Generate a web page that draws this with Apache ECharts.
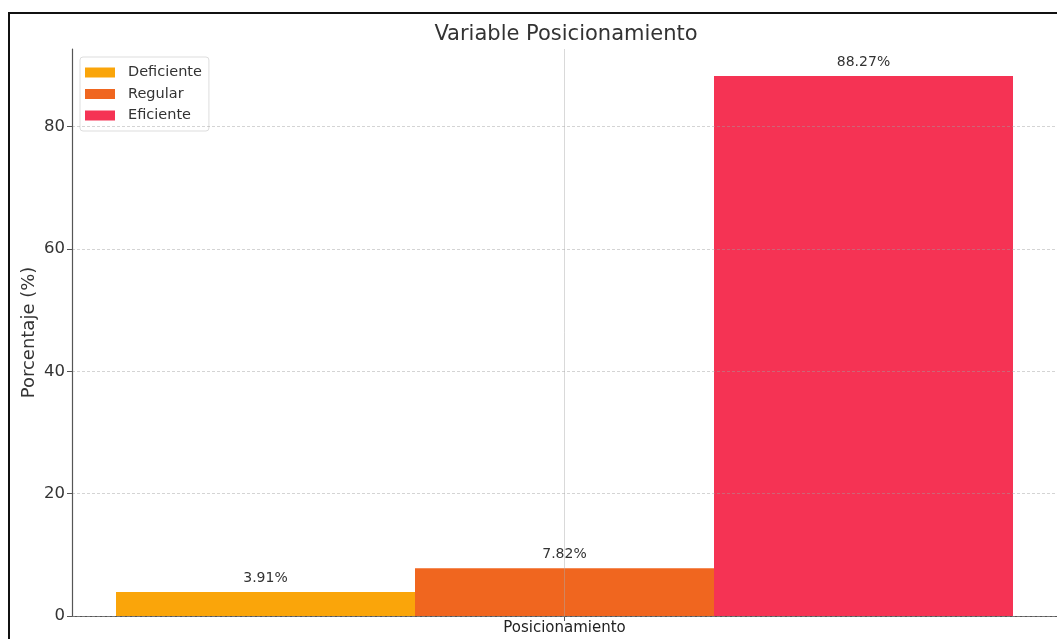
<!DOCTYPE html>
<html>
<head>
<meta charset="utf-8">
<script src="https://cdn.jsdelivr.net/npm/echarts@6/dist/echarts.min.js"></script>
<style>
  html, body { margin: 0; padding: 0; background: #fff; }
  #frame { position: absolute; left: 8px; top: 12px; width: 1060px; height: 640px;
           border: 2px solid #111; border-bottom: none; border-right: none; box-sizing: border-box; }
  #chart { position: absolute; left: 0; top: 0; width: 1057px; height: 639px; }
</style>
</head>
<body>
<div id="chart"></div>
<div id="frame"></div>
<script>
// Chart data
const categories = ['Posicionamiento'];
const levels = ['Deficiente', 'Regular', 'Eficiente'];
const deficiente = [3.91];
const regular = [7.82];
const eficiente = [88.27];
const yTicks = [0, 20, 40, 60, 80];

const colors = ['#FAA50A', '#F0661F', '#F53354'];
const font = 'DejaVu Sans, sans-serif';

const valuesByLevel = [deficiente, regular, eficiente];

const series = levels.map((name, i) => ({
  name: name,
  type: 'bar',
  xAxisIndex: 0,
  data: valuesByLevel[i],
  barWidth: 299,
  barGap: '0%',
  itemStyle: { color: colors[i] },
  label: {
    show: true,
    position: 'top',
    distance: 7,
    color: '#333',
    fontFamily: font,
    fontSize: 14,
    formatter: p => p.value.toFixed(2) + '%'
  }
}));

const chart = echarts.init(document.getElementById('chart'));
chart.setOption({
  backgroundColor: '#fff',
  animation: false,
  title: {
    text: 'Variable Posicionamiento',
    left: 561, top: 19, textAlign: 'center',
    textStyle: { fontFamily: font, fontSize: 21, fontWeight: 'normal', color: '#333' }
  },
  legend: {
    data: levels,
    orient: 'vertical',
    left: 80, top: 57,
    itemWidth: 30, itemHeight: 10, itemGap: 6.5,
    icon: 'rect',
    padding: [8, 7, 8, 5],
    borderColor: '#ddd', borderWidth: 1, borderRadius: 3,
    backgroundColor: '#fff',
    textStyle: { fontFamily: font, fontSize: 14.5, color: '#333', padding: [0, 0, 0, 8] }
  },
  grid: { left: 72, top: 49, right: -3, bottom: 23, containLabel: false },
  xAxis: [{
    type: 'category',
    data: categories,
    axisLine: { lineStyle: { color: '#555', width: 1.2 } },
    axisTick: { show: true, alignWithLabel: true, length: 5, lineStyle: { color: '#555' } },
    axisLabel: { fontFamily: font, fontSize: 15, color: '#222', margin: 5 },
    splitLine: { show: false }
  }, {
    // hidden helper axis that only carries the vertical grid line at the category centre
    type: 'value',
    position: 'bottom',
    min: -1, max: 1, interval: 1,
    z: 5,
    axisLine: { show: false },
    axisTick: { show: false },
    axisLabel: { show: false },
    splitLine: { show: true, lineStyle: { color: 'rgba(170,170,170,0.45)', width: 1 } }
  }],
  yAxis: {
    type: 'value',
    min: 0, max: 92.68, interval: 20,
    z: 5,
    name: 'Porcentaje (%)',
    nameLocation: 'middle',
    nameGap: 34,
    nameMoveOverlap: false,
    nameRotate: 90,
    nameTextStyle: { fontFamily: font, fontSize: 18, color: '#333' },
    axisLine: { show: true, onZero: false, lineStyle: { color: '#555', width: 1.2 } },
    axisTick: { show: true, length: 5, lineStyle: { color: '#555' } },
    axisLabel: {
      fontFamily: font, fontSize: 16.5, color: '#333', margin: 7,
      showMaxLabel: false,
      formatter: v => (yTicks.includes(v) ? String(v) : '')
    },
    splitLine: { show: true, showMaxLine: false, lineStyle: { color: 'rgba(160,160,160,0.45)', type: [3, 2], width: 1 } }
  },
  series: series
});
</script>
</body>
</html>
